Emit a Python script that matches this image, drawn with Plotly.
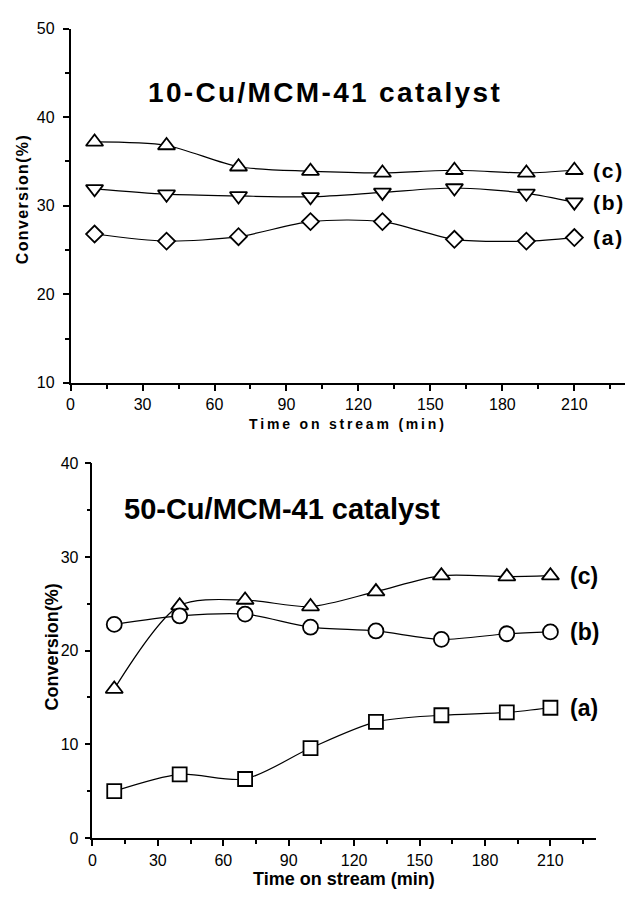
import plotly.graph_objects as go

# ---------------- data ----------------
time_min = [10, 40, 70, 100, 130, 160, 190, 210]

# Top panel: 10-Cu/MCM-41 catalyst
top_c = [37.2, 36.8, 34.4, 33.9, 33.7, 34.0, 33.7, 34.0]
top_b = [31.9, 31.3, 31.1, 31.0, 31.5, 32.0, 31.4, 30.4]
top_a = [26.8, 26.0, 26.5, 28.2, 28.2, 26.2, 26.0, 26.4]

# Bottom panel: 50-Cu/MCM-41 catalyst
bot_c = [15.9, 24.8, 25.4, 24.7, 26.3, 28.0, 27.9, 28.0]
bot_b = [22.8, 23.7, 23.9, 22.5, 22.1, 21.2, 21.8, 22.0]
bot_a = [5.0, 6.8, 6.3, 9.6, 12.4, 13.1, 13.4, 13.9]

series_labels = ["(c)", "(b)", "(a)"]
top_title = "10-Cu/MCM-41 catalyst"
bot_title = "50-Cu/MCM-41 catalyst"
x_title = "Time on stream (min)"
y_title = "Conversion(%)"

W, H = 630, 899
FONT = "Liberation Sans, Arial, sans-serif"
HAIR = "\u200a"
THIN = "\u2009"


def spaced(s, sep):
    return sep.join(list(s))


def px_x(p):
    return p / W


def px_y(p):
    return 1 - p / H


fig = go.Figure()


def add_series(xa, ya, y, symbol, size):
    fig.add_trace(go.Scatter(
        x=time_min, y=y, xaxis=xa, yaxis=ya, mode="lines+markers",
        line=dict(shape="spline", smoothing=0.8, color="black", width=1.2),
        marker=dict(symbol=symbol, size=size, color="white",
                    line=dict(color="black", width=1.8)),
        showlegend=False, hoverinfo="skip"))


add_series("x", "y", top_c, "triangle-up", 15)
add_series("x", "y", top_b, "triangle-down", 15)
add_series("x", "y", top_a, "diamond", 13)

add_series("x2", "y2", bot_c, "triangle-up", 15)
add_series("x2", "y2", bot_b, "circle", 15)
add_series("x2", "y2", bot_a, "square", 14)

axis_common = dict(
    showline=True, linecolor="black", linewidth=1.5,
    ticks="outside", ticklen=6, tickwidth=1.5, tickcolor="black",
    showgrid=False, zeroline=False,
    tickfont=dict(family=FONT, size=16, color="black"),
)
minor = dict(ticklen=4, ticks="outside", tickcolor="black", tickwidth=1.5)

fig.update_layout(
    width=W, height=H,
    margin=dict(l=0, r=0, t=0, b=0),
    paper_bgcolor="white", plot_bgcolor="white",
    xaxis=dict(domain=[px_x(67), px_x(624.7)], range=[0, 231], anchor="y",
               tickmode="linear", tick0=0, dtick=30, ticklabelstandoff=0,
               minor=dict(dtick=15, **minor), **axis_common),
    yaxis=dict(domain=[px_y(382), px_y(21)], range=[10, 50], anchor="x",
               tickmode="linear", tick0=10, dtick=10, ticklabelstandoff=5,
               minor=dict(dtick=5, **minor), **axis_common),
    xaxis2=dict(domain=[px_x(89), px_x(596)], range=[0, 231], anchor="y2",
                tickmode="linear", tick0=0, dtick=30, ticklabelstandoff=1,
                minor=dict(dtick=15, **minor), **axis_common),
    yaxis2=dict(domain=[px_y(846), px_y(464)], range=[0, 40], anchor="x2",
                tickmode="linear", tick0=0, dtick=10, ticklabelstandoff=3,
                minor=dict(dtick=5, **minor), **axis_common),
)

ann = []
# Panel titles
ann.append(dict(text="<b>" + spaced(top_title, HAIR) + "</b>", xref="paper", yref="paper",
                x=px_x(322), y=px_y(86), xanchor="center", yanchor="middle", showarrow=False,
                font=dict(family=FONT, size=28, color="black")))
ann.append(dict(text="<b>" + bot_title + "</b>", xref="paper", yref="paper",
                x=px_x(280), y=px_y(511), xanchor="center", yanchor="middle", showarrow=False,
                font=dict(family=FONT, size=29, color="black")))
# Axis titles
ann.append(dict(text="<b>" + spaced(x_title, THIN) + "</b>", xref="paper", yref="paper",
                x=px_x(345), y=px_y(424), xanchor="center", yanchor="middle", showarrow=False,
                font=dict(family=FONT, size=14, color="black")))
ann.append(dict(text="<b>" + x_title + "</b>", xref="paper", yref="paper",
                x=px_x(342), y=px_y(888), xanchor="center", yanchor="middle", showarrow=False,
                font=dict(family=FONT, size=18, color="black")))
ann.append(dict(text="<b>" + spaced(y_title, HAIR) + "</b>", xref="paper", yref="paper",
                x=px_x(18), y=px_y(195), xanchor="center", yanchor="middle", showarrow=False,
                textangle=-90, font=dict(family=FONT, size=16, color="black")))
ann.append(dict(text="<b>" + y_title + "</b>", xref="paper", yref="paper",
                x=px_x(48), y=px_y(651), xanchor="center", yanchor="middle", showarrow=False,
                textangle=-90, font=dict(family=FONT, size=18, color="black")))

# Series labels
for lab, yv in zip(series_labels, [top_c[-1], top_b[-1], top_a[-1]]):
    ann.append(dict(text="<b>" + spaced(lab, HAIR) + "</b>", xref="x", yref="y",
                    x=217, y=yv, xanchor="left", yanchor="middle", showarrow=False,
                    font=dict(family=FONT, size=21, color="black")))
for lab, yv in zip(series_labels, [bot_c[-1], bot_b[-1], bot_a[-1]]):
    ann.append(dict(text="<b>" + lab + "</b>", xref="x2", yref="y2",
                    x=218, y=yv, xanchor="left", yanchor="middle", showarrow=False,
                    font=dict(family=FONT, size=23, color="black")))

fig.update_layout(annotations=ann)

fig.write_html("out.html")
